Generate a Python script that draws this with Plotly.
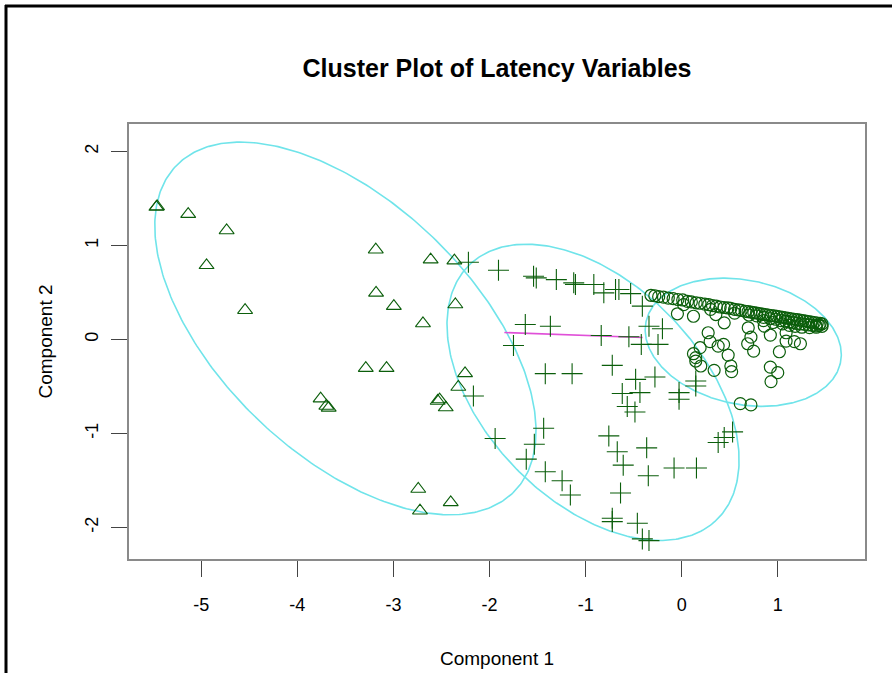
import numpy as np
import plotly.graph_objects as go

# ---------------- data ----------------
tri_x = [-5.467, -5.46, -5.136, -4.736, -4.945, -4.544, -3.184, -2.613, -2.366, -3.181, -2.996,
         -2.356, -2.693, -3.288, -3.072, -2.255, -2.325, -3.758, -3.698, -3.674, -2.540, -2.52,
         -2.456, -2.742, -2.724, -2.404]
tri_y = [1.409, 1.415, 1.334, 1.160, 0.789, 0.311, 0.955, 0.849, 0.839, 0.496, 0.354,
         0.372, 0.170, -0.305, -0.305, -0.361, -0.506, -0.630, -0.708, -0.729, -0.655, -0.64,
         -0.725, -1.592, -1.823, -1.734]

plus_x = [-2.220, -1.907, -1.542, -1.514, -1.305, -1.124, -1.106, -0.915, -0.811, -0.689,
          -0.654, -0.532, -0.410, -1.628, -1.367, -1.751, -0.838, -0.550, -0.341, -0.201,
          -0.421, -0.247, -1.420, -1.141, -0.723, -0.480, -0.279, -0.619, -0.435, -0.567,
          -0.487, -2.168, -0.028, -0.028, 0.146, 0.146, -1.942, -1.437, -1.534, -1.618,
          -0.759, -0.671, -0.609, -0.365, -0.348, -0.080, 0.153, 0.379, 0.442, 0.529,
          -1.420, -1.245, -1.159, -0.637, -0.723, -0.723, -0.462, -0.410, -0.341]
plus_y = [0.821, 0.736, 0.672, 0.655, 0.637, 0.602, 0.584, 0.584, 0.496, 0.531,
          0.531, 0.488, 0.354, 0.159, 0.141, -0.064, 0.042, 0.029, 0.141, 0.114,
          -0.053, -0.053, -0.364, -0.364, -0.276, -0.425, -0.400, -0.576, -0.566, -0.714,
          -0.772, -0.602, -0.566, -0.637, -0.443, -0.496, -1.054, -0.945, -1.115, -1.274,
          -1.027, -1.196, -1.338, -1.154, -1.451, -1.369, -1.369, -1.097, -1.044, -0.984,
          -1.409, -1.504, -1.656, -1.635, -1.903, -1.939, -1.957, -2.123, -2.141]

circ_x = [-0.32, -0.28, -0.24, -0.19, -0.14, -0.09, -0.04, 0.01, 0.06, 0.10, 0.15, 0.19, 0.24,
          0.28, 0.32, 0.36, 0.40, 0.44, 0.48, 0.51, 0.55, 0.59, 0.62, 0.66, 0.69, 0.72, 0.75,
          0.78, 0.81, 0.84, 0.87, 0.90, 0.93, 0.96, 0.99, 1.02, 1.05, 1.08, 1.11, 1.14, 1.17,
          1.20, 1.23, 1.26, 1.29, 1.32, 1.35, 1.38, 1.41, 1.44, 1.46,
          0.02, 0.30, 0.55, 0.70, 0.78, 0.85, 0.92, 0.98, 1.03, 1.08, 1.12, 1.16, 1.20, 1.24,
          1.28, 1.32, 1.36, 1.40, 1.43, 1.46,
          0.85, 0.95, 1.05, 1.12, 1.18, 1.25, 1.33, 1.40,
          -0.045, 0.122, 0.442, 0.275, 0.295, 0.379, 0.435, 0.191, 0.122, 0.146, 0.146, 0.198,
          0.337, 0.483, 0.511, 0.519, 0.692, 0.720, 0.686, 0.748, 0.922, 1.016, 0.859, 1.086,
          1.086, 1.172, 1.235, 0.922, 0.999, 0.929, 0.609, 0.720, 0.355]
circ_y = [0.470, 0.465, 0.455, 0.450, 0.440, 0.435, 0.425, 0.420, 0.405, 0.400, 0.390, 0.385,
          0.375, 0.370, 0.360, 0.355, 0.345, 0.340, 0.335, 0.330, 0.320, 0.315, 0.310, 0.300,
          0.295, 0.290, 0.285, 0.280, 0.275, 0.270, 0.265, 0.260, 0.255, 0.250, 0.245, 0.240,
          0.235, 0.230, 0.225, 0.220, 0.215, 0.210, 0.205, 0.200, 0.195, 0.190, 0.185, 0.180,
          0.175, 0.170, 0.165,
          0.370, 0.320, 0.280, 0.260, 0.250, 0.235, 0.220, 0.215, 0.200, 0.195, 0.185, 0.180,
          0.170, 0.165, 0.160, 0.155, 0.150, 0.145, 0.150, 0.140,
          0.200, 0.180, 0.165, 0.150, 0.140, 0.130, 0.125, 0.130,
          0.273, 0.247, 0.177, 0.071, -0.024, -0.071, -0.053, -0.088, -0.152, -0.194, -0.230,
          -0.283, -0.329, -0.167, -0.283, -0.343, 0.124, 0.024, -0.046, -0.124, 0.046, -0.131,
          0.141, 0.071, -0.018, -0.024, -0.046, -0.294, -0.354, -0.449, -0.683, -0.697, 0.265]

# cluster ellipses: centre, semi-axes, rotation (degrees)
ell_cx = [-3.50, -0.923, 0.64]
ell_cy = [0.117, -0.563, -0.03]
ell_a = [2.47, 1.87, 1.035]
ell_b = [1.33, 1.14, 0.66]
ell_ang = [-45.0, -47.3, -12.5]

seg_x = [-1.846, -0.407]
seg_y = [0.074, 0.021]

x_ticks = [-5, -4, -3, -2, -1, 0, 1]
y_ticks = [-2, -1, 0, 1, 2]

# ---------------- layout constants ----------------
W, H = 892, 673
ML, MR, MT, MB = 129, 27, 124, 114
XR = [-5.752, 1.907]
YR = [-2.337, 2.293]
PW, PH = W - ML - MR, H - MT - MB

FONT = "Liberation Sans, Arial, sans-serif"
GREEN = "#0b5e0b"
CYAN = "#70e4ea"

fig = go.Figure()

t = np.linspace(0, 2 * np.pi, 361)
for cx, cy, a, b, ang in zip(ell_cx, ell_cy, ell_a, ell_b, ell_ang):
    th = np.deg2rad(ang)
    ex = cx + a * np.cos(t) * np.cos(th) - b * np.sin(t) * np.sin(th)
    ey = cy + a * np.cos(t) * np.sin(th) + b * np.sin(t) * np.cos(th)
    fig.add_trace(go.Scatter(x=ex, y=ey, mode="lines",
                             line=dict(color=CYAN, width=1.6), hoverinfo="skip"))

fig.add_trace(go.Scatter(x=seg_x, y=seg_y, mode="lines",
                         line=dict(color="#e050d8", width=1.6)))

fig.add_trace(go.Scatter(x=tri_x, y=tri_y, mode="markers",
                         marker=dict(symbol="triangle-up-open", size=13, color=GREEN,
                                     line=dict(width=1.1))))
fig.add_trace(go.Scatter(x=plus_x, y=plus_y, mode="markers",
                         marker=dict(symbol="cross-thin-open", size=15, color=GREEN,
                                     line=dict(width=1.1))))
fig.add_trace(go.Scatter(x=circ_x, y=circ_y, mode="markers",
                         marker=dict(symbol="circle-open", size=12, color=GREEN,
                                     line=dict(width=1.2))))

# outer black frame (top and left edges), converted to paper coords
def px2paper_x(px):
    return (px - ML) / PW

def py2paper_y(py):
    return (H - MB - py) / PH

fig.add_shape(type="line", xref="paper", yref="paper",
              x0=px2paper_x(5), x1=px2paper_x(W + 5), y0=py2paper_y(6), y1=py2paper_y(6),
              line=dict(color="black", width=3))
fig.add_shape(type="line", xref="paper", yref="paper",
              x0=px2paper_x(6), x1=px2paper_x(6), y0=py2paper_y(5), y1=py2paper_y(H + 5),
              line=dict(color="black", width=3))

axis_common = dict(showgrid=False, zeroline=False, showline=True, mirror=True,
                   linecolor="#8a8a8a", linewidth=2, ticks="outside", ticklen=16,
                   tickwidth=1.2, tickcolor="#444444", automargin=False,
                   tickfont=dict(family=FONT, size=18, color="black"))

fig.update_layout(
    width=W, height=H,
    margin=dict(l=ML, r=MR, t=MT, b=MB),
    paper_bgcolor="white", plot_bgcolor="white",
    showlegend=False,
    title=dict(text="<b>Cluster Plot of Latency Variables</b>", x=(ML + PW / 2) / W,
               xanchor="center", y=1 - 68 / H, yanchor="middle",
               font=dict(family=FONT, size=25, color="black")),
    xaxis=dict(range=XR, tickvals=x_ticks, ticktext=[str(v) for v in x_ticks],
               ticklabelstandoff=12,
               title=dict(text="Component 1", standoff=38,
                          font=dict(family=FONT, size=19, color="black")),
               **axis_common),
    yaxis=dict(range=YR, tickvals=y_ticks, ticktext=[str(v) for v in y_ticks],
               tickangle=-90, ticklabelstandoff=6,
               title=dict(text="Component 2", standoff=24,
                          font=dict(family=FONT, size=19, color="black")),
               **axis_common),
)

fig.write_html("out.html", config={"displayModeBar": False},
               post_script="document.body.style.margin='0';document.body.style.overflow='hidden';")
